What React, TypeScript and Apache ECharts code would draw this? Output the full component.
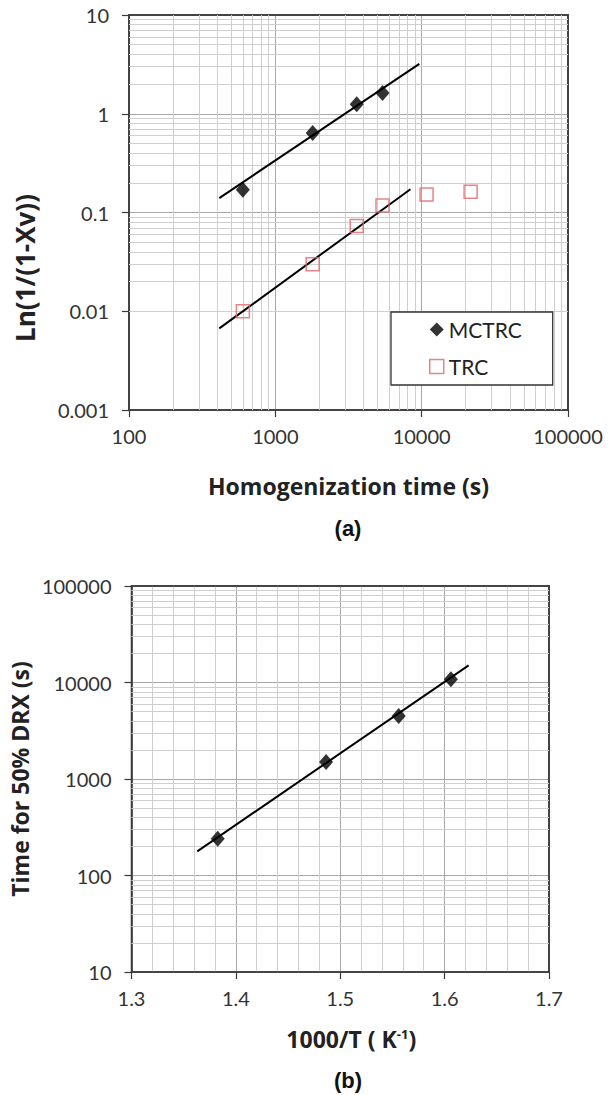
import React, { useEffect, useRef } from "react";
import * as echarts from "echarts";

// ---- Chart (a): Avrami-type plot ----
const mctrcTime = [600, 1800, 3600, 5400];
const mctrcValue = [0.17, 0.64, 1.25, 1.62];
const trcTime = [600, 1800, 3600, 5400, 10800, 21600];
const trcValue = [0.01, 0.03, 0.073, 0.118, 0.152, 0.162];
const mctrcFitTime = [414, 9640];
const mctrcFitValue = [0.14, 3.2];
const trcFitTime = [414, 8380];
const trcFitValue = [0.0067, 0.172];
const timeAxisRange = [100, 100000];
const lnAxisRange = [0.001, 10];

// ---- Chart (b): time for 50% DRX vs 1000/T ----
const inverseT = [1.3826, 1.4864, 1.556, 1.606];
const drxTime = [240, 1500, 4500, 10800];
const inverseTFit = [1.363, 1.623];
const drxTimeFit = [178, 15070];
const invTAxisRange = [1.3, 1.7];
const invTInterval = 0.1;
const drxAxisRange = [10, 100000];

const FONT = "Lato";
const TITLE_FONT = "'Open Sans'";
const AXIS_COLOR = "#3a3a3a";
const MAJOR_GRID = "#a8a8a8";
const MINOR_GRID = "#cfcfcf";
const TRC_COLOR = "#e06666";

const pairs = (xs: number[], ys: number[]) => xs.map((x, i) => [x, ys[i]]);

function minorLogValues(min: number, max: number): number[] {
  const out: number[] = [];
  const k0 = Math.round(Math.log10(min));
  const k1 = Math.round(Math.log10(max));
  for (let k = k0; k < k1; k++) {
    const d = Math.pow(10, k);
    for (let m = 2; m <= 9; m++) out.push(+(m * d).toPrecision(6));
  }
  return out;
}

const logLabel = (v: number) => String(+Number(v).toPrecision(6));

function axisCommon() {
  return {
    axisLine: { show: true, onZero: false, lineStyle: { color: AXIS_COLOR, width: 1.6 } },
    axisTick: { show: true, inside: false, length: 7, lineStyle: { color: AXIS_COLOR, width: 1.2 } },
    splitLine: {
      show: true,
      showMinLine: false,
      showMaxLine: false,
      lineStyle: { color: MAJOR_GRID, width: 1 },
    },
  };
}

function frameAxis(gridIndex: number, type: string, range: number[], position: string) {
  return {
    gridIndex,
    type,
    min: range[0],
    max: range[1],
    position,
    axisLine: { show: true, onZero: false, lineStyle: { color: AXIS_COLOR, width: 1.6 } },
    axisTick: { show: false },
    axisLabel: { show: false },
    splitLine: { show: false },
    silent: true,
  };
}

function minorGridSeries(name: string, xi: number, xVals: number[], yVals: number[]) {
  return {
    name,
    type: "line",
    xAxisIndex: xi,
    yAxisIndex: xi,
    data: [],
    silent: true,
    z: 1,
    markLine: {
      z: 1,
      silent: true,
      symbol: ["none", "none"],
      label: { show: false },
      emphasis: { disabled: true },
      animation: false,
      lineStyle: { color: MINOR_GRID, width: 1, type: "solid" },
      data: [...xVals.map((v) => ({ xAxis: v })), ...yVals.map((v) => ({ yAxis: v }))],
    },
  };
}

export default function App() {
  const ref = useRef<HTMLDivElement>(null);

  useEffect(() => {
    if (!ref.current) return;
    const chart = echarts.init(ref.current, undefined, { renderer: "svg" });

    const option = {
      animation: false,
      backgroundColor: "#ffffff",
      textStyle: { fontFamily: FONT },
      grid: [
        { left: 129, top: 15, width: 439, height: 395, show: true, borderColor: AXIS_COLOR, borderWidth: 1.5, backgroundColor: "transparent" },
        { left: 129, top: 586, width: 420, height: 386, show: true, borderColor: AXIS_COLOR, borderWidth: 1.5, backgroundColor: "transparent" },
      ],
      legend: {
        show: true,
        orient: "vertical",
        left: 391,
        top: 312,
        z: 6,
        padding: [7, 31, 8, 38],
        itemGap: 16,
        itemWidth: 14,
        itemHeight: 14,
        backgroundColor: "#ffffff",
        borderColor: "#333333",
        borderWidth: 1.3,
        borderRadius: 0,
        textStyle: { fontFamily: FONT, fontSize: 21, color: "#222222" },
        data: [
          { name: "MCTRC", icon: "diamond", itemStyle: { color: "#000000" } },
          { name: "TRC", icon: "rect", itemStyle: { color: "rgba(0,0,0,0)", borderColor: TRC_COLOR, borderWidth: 1.5 } },
        ],
        selectedMode: false,
      },
      xAxis: [
        {
          gridIndex: 0,
          type: "log",
          logBase: 10,
          min: timeAxisRange[0],
          max: timeAxisRange[1],
          ...axisCommon(),
          axisLabel: { fontFamily: FONT, fontSize: 20, color: "#333333", margin: 16, formatter: logLabel },
          name: "Homogenization time (s)",
          nameLocation: "middle",
          nameGap: 64,
          nameTextStyle: { fontFamily: TITLE_FONT, fontWeight: "bold", fontSize: 23, color: "#222222" },
        },
        {
          gridIndex: 1,
          type: "value",
          min: invTAxisRange[0],
          max: invTAxisRange[1],
          interval: invTInterval,
          ...axisCommon(),
          minorTick: { show: false, splitNumber: 5 },
          minorSplitLine: { show: true, lineStyle: { color: MINOR_GRID, width: 1 } },
          axisLabel: { fontFamily: FONT, fontSize: 20, color: "#333333", margin: 16, formatter: (v: number) => v.toFixed(1) },
          name: "1000/T ( K{sup|-1})",
          nameLocation: "middle",
          nameGap: 55,
          nameTextStyle: {
            fontFamily: TITLE_FONT,
            fontWeight: "bold",
            fontSize: 23,
            color: "#222222",
            padding: [0, 0, 0, 22],
            rich: { sup: { fontFamily: TITLE_FONT, fontSize: 13, fontWeight: "bold", color: "#222222", verticalAlign: "top", padding: [0, 0, 8, 0] } },
          },
        },
        frameAxis(0, "log", timeAxisRange, "top"),
        frameAxis(1, "value", invTAxisRange, "top"),
      ],
      yAxis: [
        {
          gridIndex: 0,
          type: "log",
          logBase: 10,
          min: lnAxisRange[0],
          max: lnAxisRange[1],
          ...axisCommon(),
          axisLabel: { fontFamily: FONT, fontSize: 20, color: "#333333", margin: 20, formatter: logLabel },
        },
        {
          gridIndex: 1,
          type: "log",
          logBase: 10,
          min: drxAxisRange[0],
          max: drxAxisRange[1],
          ...axisCommon(),
          axisLabel: { fontFamily: FONT, fontSize: 20, color: "#333333", margin: 20, formatter: logLabel },
          name: "Time for 50% DRX (s)",
          nameLocation: "middle",
          nameGap: 100,
          nameTextStyle: { fontFamily: TITLE_FONT, fontWeight: "bold", fontSize: 23, color: "#222222" },
        },
        frameAxis(0, "log", lnAxisRange, "right"),
        frameAxis(1, "log", drxAxisRange, "right"),
      ],
      graphic: [
        {
          type: "text",
          x: 25,
          y: 268,
          rotation: Math.PI / 2,
          style: {
            text: "Ln(1/(1-Xv))",
            font: "bold 26px 'Open Sans'",
            fill: "#222222",
            align: "center",
            verticalAlign: "middle",
            textAlign: "center",
            textVerticalAlign: "middle",
          },
        },
        {
          type: "text",
          x: 348,
          y: 528,
          style: {
            text: "(a)",
            font: "bold 22px 'Liberation Sans'",
            fill: "#111111",
            align: "center",
            verticalAlign: "middle",
            textAlign: "center",
            textVerticalAlign: "middle",
          },
        },
        {
          type: "text",
          x: 348,
          y: 1080,
          style: {
            text: "(b)",
            font: "bold 22px 'Liberation Sans'",
            fill: "#111111",
            align: "center",
            verticalAlign: "middle",
            textAlign: "center",
            textVerticalAlign: "middle",
          },
        },
      ],
      series: [
        minorGridSeries("gridA", 0, minorLogValues(timeAxisRange[0], timeAxisRange[1]), minorLogValues(lnAxisRange[0], lnAxisRange[1])),
        {
          name: "MCTRC fit",
          type: "line",
          xAxisIndex: 0,
          yAxisIndex: 0,
          data: pairs(mctrcFitTime, mctrcFitValue),
          symbol: "none",
          silent: true,
          z: 3,
          lineStyle: { color: "#000000", width: 2, type: "solid" },
        },
        {
          name: "TRC fit",
          type: "line",
          xAxisIndex: 0,
          yAxisIndex: 0,
          data: pairs(trcFitTime, trcFitValue),
          symbol: "none",
          silent: true,
          z: 3,
          lineStyle: { color: "#000000", width: 2, type: "solid" },
        },
        {
          name: "MCTRC",
          type: "scatter",
          xAxisIndex: 0,
          yAxisIndex: 0,
          data: pairs(mctrcTime, mctrcValue),
          symbol: "diamond",
          symbolSize: [14, 16],
          z: 4,
          itemStyle: { color: "#000000" },
        },
        {
          name: "TRC",
          type: "scatter",
          xAxisIndex: 0,
          yAxisIndex: 0,
          data: pairs(trcTime, trcValue),
          symbol: "rect",
          symbolSize: 13,
          z: 4,
          itemStyle: { color: "rgba(0,0,0,0)", borderColor: TRC_COLOR, borderWidth: 1.5 },
        },
        minorGridSeries("gridB", 1, [], minorLogValues(drxAxisRange[0], drxAxisRange[1])),
        {
          name: "DRX fit",
          type: "line",
          xAxisIndex: 1,
          yAxisIndex: 1,
          data: pairs(inverseTFit, drxTimeFit),
          symbol: "none",
          silent: true,
          z: 3,
          lineStyle: { color: "#000000", width: 2, type: "solid" },
        },
        {
          name: "DRX",
          type: "scatter",
          xAxisIndex: 1,
          yAxisIndex: 1,
          data: pairs(inverseT, drxTime),
          symbol: "diamond",
          symbolSize: [14, 16],
          z: 4,
          itemStyle: { color: "#000000" },
        },
      ],
    };

    chart.setOption(option as any);
    return () => chart.dispose();
  }, []);

  return (
    <div
      ref={ref}
      style={{ position: "absolute", left: 0, top: 0, width: 614, height: 1095, background: "#fff" }}
    />
  );
}
